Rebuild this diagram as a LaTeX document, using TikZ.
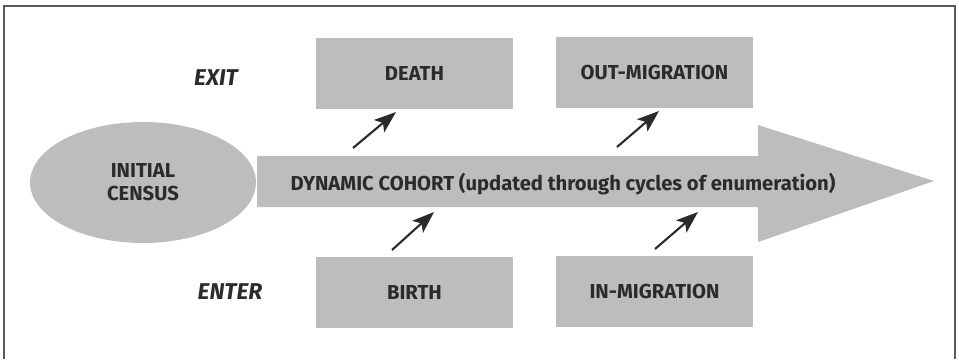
\documentclass[tikz,border=0pt]{standalone}
\usepackage{fontspec}
\setmainfont{Fira Sans}
\usepackage{tikz}
\usetikzlibrary{positioning,shapes.geometric,arrows.meta}
\definecolor{boxgray}{HTML}{BDBDBD}
\definecolor{inkgray}{HTML}{2B2B2B}

\begin{document}
\begin{tikzpicture}[x=0.02cm,y=-0.02cm,
        event/.style={fill=boxgray,minimum width=3.94cm,minimum height=1.42cm,
            font=\fontsize{11.5}{13}\selectfont\bfseries,text=inkgray},
        flow/.style={-{Stealth[length=0.44cm,width=0.32cm,inset=0.1cm]},line width=1.2pt,draw=inkgray},
        side/.style={font=\fontsize{13}{15}\selectfont\bfseries\itshape,text=inkgray}]
            \useasboundingbox (0,0) rectangle (959,359);
            \draw[gray!70!black,line width=0.8pt] (4,359) -- (4,6) -- (955,6) -- (955,359);

            % the cohort arrow
            \fill[boxgray] (257,156) -- (758,156) -- (758,125) -- (934,181)
                -- (758,242) -- (758,207) -- (257,207) -- cycle;
            \node[text=inkgray,font=\fontsize{11.5}{13}\selectfont\bfseries] (cohort) at (563,184)
                {DYNAMIC COHORT (updated through cycles of enumeration)};
            \node[ellipse,fill=boxgray,minimum width=4.52cm,minimum height=2.42cm,align=center,
                text=inkgray,font=\fontsize{11.5}{13}\selectfont\bfseries] (census) at (143,182.5)
                {INITIAL\\CENSUS};

            \foreach \x/\y/\n/\t in {414.5/73.5/death/DEATH,654.5/72.5/outmig/OUT-MIGRATION,
                                    414.5/292/birth/BIRTH,654.5/291/inmig/IN-MIGRATION}{
                \node[event] (\n) at (\x,\y) {\t};
            }
            \node[side] (exit) at (216,78) {EXIT};
            \node[side] (enter) at (230,292) {ENTER};

            \foreach \a/\b/\c/\d/\n in {353/148/396/112/death,617/147/659/111/outmig,
                                        392/250/434/212/birth,655/249/698/212/inmig}{
                \coordinate (\n-from) at (\a,\b);
                \coordinate (\n-to) at (\c,\d);
                \draw[flow] (\n-from) -- (\n-to);
            }
        \end{tikzpicture}
\end{document}
